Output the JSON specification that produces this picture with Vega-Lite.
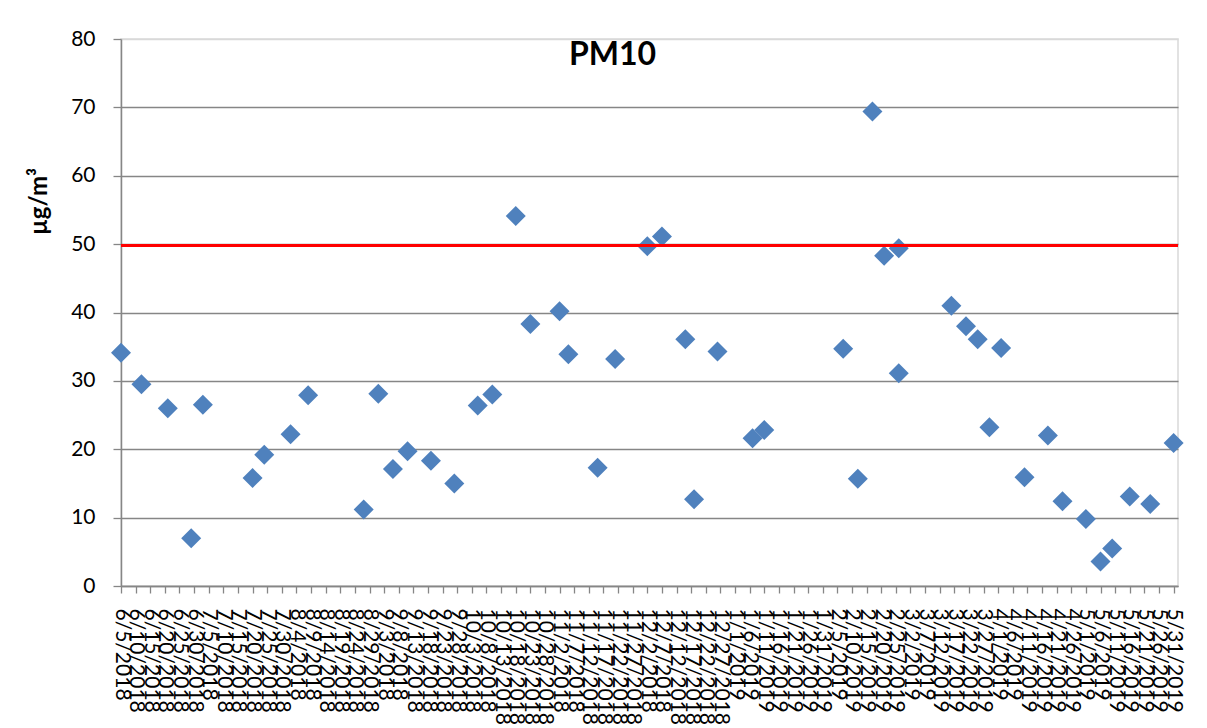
{
  "$schema": "https://vega.github.io/schema/vega-lite/v6.json",
  "width": 1057,
  "height": 547,
  "autosize": {"type": "none"},
  "padding": {"left": 121, "top": 39, "right": 29, "bottom": 142},
  "background": "white",
  "config": {"font": "Lato", "view": {"stroke": "#d9d9d9", "strokeWidth": 1.5}},
  "title": {"text": "PM10", "fontSize": 32, "font": "Lato", "fontWeight": "bold", "color": "black", "anchor": "middle", "dx": -37, "dy": 69, "offset": 0, "baseline": "alphabetic"},
  "datasets": {
    "pm": [
      {"date": "2018-06-05", "v": 34.1},
      {"date": "2018-06-12", "v": 29.5},
      {"date": "2018-06-21", "v": 26.0},
      {"date": "2018-06-29", "v": 7.0},
      {"date": "2018-07-03", "v": 26.5},
      {"date": "2018-07-20", "v": 15.8},
      {"date": "2018-07-24", "v": 19.2},
      {"date": "2018-08-02", "v": 22.2},
      {"date": "2018-08-08", "v": 27.9},
      {"date": "2018-08-27", "v": 11.2},
      {"date": "2018-09-01", "v": 28.1},
      {"date": "2018-09-06", "v": 17.1},
      {"date": "2018-09-11", "v": 19.7},
      {"date": "2018-09-19", "v": 18.3},
      {"date": "2018-09-27", "v": 15.0},
      {"date": "2018-10-05", "v": 26.4},
      {"date": "2018-10-10", "v": 28.0},
      {"date": "2018-10-18", "v": 54.1},
      {"date": "2018-10-23", "v": 38.3},
      {"date": "2018-11-02", "v": 40.2},
      {"date": "2018-11-05", "v": 33.9},
      {"date": "2018-11-15", "v": 17.3},
      {"date": "2018-11-21", "v": 33.2},
      {"date": "2018-12-02", "v": 49.7},
      {"date": "2018-12-07", "v": 51.1},
      {"date": "2018-12-15", "v": 36.1},
      {"date": "2018-12-18", "v": 12.7},
      {"date": "2018-12-26", "v": 34.3},
      {"date": "2019-01-07", "v": 21.6},
      {"date": "2019-01-11", "v": 22.8},
      {"date": "2019-02-07", "v": 34.7},
      {"date": "2019-02-12", "v": 15.7},
      {"date": "2019-02-17", "v": 69.4},
      {"date": "2019-02-21", "v": 48.3},
      {"date": "2019-02-26", "v": 49.4},
      {"date": "2019-02-26", "v": 31.1},
      {"date": "2019-03-16", "v": 41.0},
      {"date": "2019-03-21", "v": 38.0},
      {"date": "2019-03-25", "v": 36.1},
      {"date": "2019-03-29", "v": 23.2},
      {"date": "2019-04-02", "v": 34.8},
      {"date": "2019-04-10", "v": 15.9},
      {"date": "2019-04-18", "v": 22.0},
      {"date": "2019-04-23", "v": 12.4},
      {"date": "2019-05-01", "v": 9.8},
      {"date": "2019-05-06", "v": 3.6},
      {"date": "2019-05-10", "v": 5.5},
      {"date": "2019-05-16", "v": 13.1},
      {"date": "2019-05-23", "v": 12.0},
      {"date": "2019-05-31", "v": 20.9}
    ],
    "limit": [{"v": 49.8}]
  },
  "layer": [
    {
      "data": {"name": "pm"},
      "mark": {"type": "point", "shape": "diamond", "filled": true, "size": 400, "color": "#4F81BD", "opacity": 1},
      "encoding": {
        "x": {
          "field": "date", "type": "temporal",
          "scale": {"type": "utc", "domain": [{"year": 2018, "month": 6, "date": 5, "utc": true}, {"year": 2019, "month": 6, "date": 1, "hours": 12, "utc": true}]},
          "axis": {
            "values": [
              {"year": 2018, "month": 6, "date": 5, "utc": true},
              {"year": 2018, "month": 6, "date": 10, "utc": true},
              {"year": 2018, "month": 6, "date": 15, "utc": true},
              {"year": 2018, "month": 6, "date": 20, "utc": true},
              {"year": 2018, "month": 6, "date": 25, "utc": true},
              {"year": 2018, "month": 6, "date": 30, "utc": true},
              {"year": 2018, "month": 7, "date": 5, "utc": true},
              {"year": 2018, "month": 7, "date": 10, "utc": true},
              {"year": 2018, "month": 7, "date": 15, "utc": true},
              {"year": 2018, "month": 7, "date": 20, "utc": true},
              {"year": 2018, "month": 7, "date": 25, "utc": true},
              {"year": 2018, "month": 7, "date": 30, "utc": true},
              {"year": 2018, "month": 8, "date": 4, "utc": true},
              {"year": 2018, "month": 8, "date": 9, "utc": true},
              {"year": 2018, "month": 8, "date": 14, "utc": true},
              {"year": 2018, "month": 8, "date": 19, "utc": true},
              {"year": 2018, "month": 8, "date": 24, "utc": true},
              {"year": 2018, "month": 8, "date": 29, "utc": true},
              {"year": 2018, "month": 9, "date": 3, "utc": true},
              {"year": 2018, "month": 9, "date": 8, "utc": true},
              {"year": 2018, "month": 9, "date": 13, "utc": true},
              {"year": 2018, "month": 9, "date": 18, "utc": true},
              {"year": 2018, "month": 9, "date": 23, "utc": true},
              {"year": 2018, "month": 9, "date": 28, "utc": true},
              {"year": 2018, "month": 10, "date": 3, "utc": true},
              {"year": 2018, "month": 10, "date": 8, "utc": true},
              {"year": 2018, "month": 10, "date": 13, "utc": true},
              {"year": 2018, "month": 10, "date": 18, "utc": true},
              {"year": 2018, "month": 10, "date": 23, "utc": true},
              {"year": 2018, "month": 10, "date": 28, "utc": true},
              {"year": 2018, "month": 11, "date": 2, "utc": true},
              {"year": 2018, "month": 11, "date": 7, "utc": true},
              {"year": 2018, "month": 11, "date": 12, "utc": true},
              {"year": 2018, "month": 11, "date": 17, "utc": true},
              {"year": 2018, "month": 11, "date": 22, "utc": true},
              {"year": 2018, "month": 11, "date": 27, "utc": true},
              {"year": 2018, "month": 12, "date": 2, "utc": true},
              {"year": 2018, "month": 12, "date": 7, "utc": true},
              {"year": 2018, "month": 12, "date": 12, "utc": true},
              {"year": 2018, "month": 12, "date": 17, "utc": true},
              {"year": 2018, "month": 12, "date": 22, "utc": true},
              {"year": 2018, "month": 12, "date": 27, "utc": true},
              {"year": 2019, "month": 1, "date": 1, "utc": true},
              {"year": 2019, "month": 1, "date": 6, "utc": true},
              {"year": 2019, "month": 1, "date": 11, "utc": true},
              {"year": 2019, "month": 1, "date": 16, "utc": true},
              {"year": 2019, "month": 1, "date": 21, "utc": true},
              {"year": 2019, "month": 1, "date": 26, "utc": true},
              {"year": 2019, "month": 1, "date": 31, "utc": true},
              {"year": 2019, "month": 2, "date": 5, "utc": true},
              {"year": 2019, "month": 2, "date": 10, "utc": true},
              {"year": 2019, "month": 2, "date": 15, "utc": true},
              {"year": 2019, "month": 2, "date": 20, "utc": true},
              {"year": 2019, "month": 2, "date": 25, "utc": true},
              {"year": 2019, "month": 3, "date": 2, "utc": true},
              {"year": 2019, "month": 3, "date": 7, "utc": true},
              {"year": 2019, "month": 3, "date": 12, "utc": true},
              {"year": 2019, "month": 3, "date": 17, "utc": true},
              {"year": 2019, "month": 3, "date": 22, "utc": true},
              {"year": 2019, "month": 3, "date": 27, "utc": true},
              {"year": 2019, "month": 4, "date": 1, "utc": true},
              {"year": 2019, "month": 4, "date": 6, "utc": true},
              {"year": 2019, "month": 4, "date": 11, "utc": true},
              {"year": 2019, "month": 4, "date": 16, "utc": true},
              {"year": 2019, "month": 4, "date": 21, "utc": true},
              {"year": 2019, "month": 4, "date": 26, "utc": true},
              {"year": 2019, "month": 5, "date": 1, "utc": true},
              {"year": 2019, "month": 5, "date": 6, "utc": true},
              {"year": 2019, "month": 5, "date": 11, "utc": true},
              {"year": 2019, "month": 5, "date": 16, "utc": true},
              {"year": 2019, "month": 5, "date": 21, "utc": true},
              {"year": 2019, "month": 5, "date": 26, "utc": true},
              {"year": 2019, "month": 5, "date": 31, "utc": true}
            ],
            "labelExpr": "utcFormat(datum.value, '%-m/%-d/%Y')",
            "labelAngle": 90,
            "labelAlign": "left",
            "labelBaseline": "middle",
            "labelFontSize": 21,
            "labelFont": "Lato",
            "labelColor": "black",
            "labelPadding": 15,
            "labelOverlap": false,
            "labelBound": false,
            "labelFlush": false,
            "labelLimit": 0,
            "tickSize": 7,
            "tickWidth": 1.3,
            "tickColor": "#868686",
            "domainColor": "#868686",
            "domainWidth": 1.5,
            "grid": false,
            "title": null
          }
        },
        "y": {
          "field": "v", "type": "quantitative",
          "scale": {"domain": [0, 80], "nice": false},
          "axis": {
            "values": [0, 10, 20, 30, 40, 50, 60, 70, 80],
            "title": "µg/m³",
            "titleFont": "Lato",
            "titleFontSize": 24,
            "titleFontWeight": "bold",
            "titleColor": "black",
            "titleAngle": -90,
            "titleX": -82,
            "titleY": 162,
            "titleAlign": "center",
            "titleBaseline": "middle",
            "labelFontSize": 21,
            "labelFont": "Lato",
            "labelColor": "black",
            "labelPadding": 18,
            "tickSize": 8,
            "tickWidth": 1.3,
            "tickColor": "#868686",
            "domainColor": "#868686",
            "domainWidth": 1.5,
            "grid": true,
            "gridColor": {"condition": {"test": "datum.value === 80", "value": "#d9d9d9"}, "value": "#868686"},
            "gridWidth": 1.5
          }
        }
      }
    },
    {
      "data": {"name": "limit"},
      "mark": {"type": "rule", "color": "#FF0000", "strokeWidth": 3},
      "encoding": {"y": {"field": "v", "type": "quantitative", "title": "µg/m³"}}
    }
  ]
}
